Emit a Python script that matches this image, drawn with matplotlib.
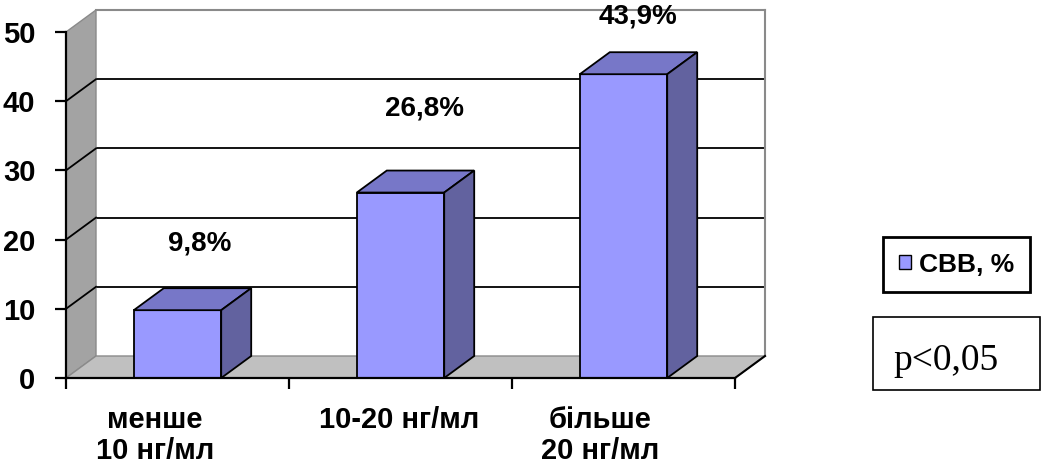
import matplotlib
matplotlib.use('Agg')
import matplotlib.pyplot as plt
from matplotlib.patches import Polygon, Patch, Rectangle

categories = ['менше\n10 нг/мл', '10-20 нг/мл', 'більше\n20 нг/мл']
values = [9.8, 26.8, 43.9]
value_labels = ['9,8%', '26,8%', '43,9%']
series_name = 'СВВ, %'
y_ticks = [0, 10, 20, 30, 40, 50]
p_text = 'p<0,05'

plt.rcParams['font.family'] = ['Liberation Sans', 'DejaVu Sans']
plt.rcParams['font.weight'] = 'bold'

W, H = 1042, 465
fig = plt.figure(figsize=(W / 100, H / 100), dpi=100)

# front plane of the 3-D box, in pixels
x0, x1, ytop, ybot = 66, 735, 32, 378
ax = fig.add_axes([x0 / W, 1 - ybot / H, (x1 - x0) / W, (ybot - ytop) / H])
ax.set_xlim(0, 3)
ax.set_ylim(0, 50)
ax.patch.set_visible(False)

px_x = 3 / (x1 - x0)
px_y = 50 / (ybot - ytop)
DX, DY = 30 * px_x, 22 * px_y  # depth of the box

front_c, top_c, side_c = '#9999ff', '#7777c8', '#62629f'
wall_edge = '#8a8a8a'

# back wall gridlines
for t in y_ticks[1:-1]:
    ax.plot([DX, 3 + DX], [t + DY, t + DY], color='black', lw=1.3, zorder=1, clip_on=False)
ax.plot([DX, 3 + DX], [50 + DY, 50 + DY], color=wall_edge, lw=1.5, zorder=1, clip_on=False)
ax.plot([3 + DX, 3 + DX], [DY, 50 + DY], color=wall_edge, lw=1.5, zorder=1, clip_on=False)

# left side wall
ax.add_patch(Polygon([(0, 0), (0, 50), (DX, 50 + DY), (DX, DY)], closed=True,
                     fc='#a3a3a3', ec=wall_edge, lw=1, zorder=2, clip_on=False))
for t in y_ticks[1:-1]:
    ax.plot([0, DX], [t, t + DY], color='black', lw=1.3, zorder=3, clip_on=False)

# floor
ax.add_patch(Polygon([(0, 0), (DX, DY), (3 + DX, DY), (3, 0)], closed=True,
                     fc='#c0c0c0', ec=wall_edge, lw=1, zorder=2, clip_on=False))
ax.plot([3, 3 + DX], [0, DY], color='black', lw=1.5, zorder=3, clip_on=False)

# columns
hw = 0.196
for i, v in enumerate(values):
    c = i + 0.5
    ax.add_patch(Rectangle((c - hw, 0), 2 * hw, v, fc=front_c, ec='black', lw=1.3, zorder=4))
    ax.add_patch(Polygon([(c - hw, v), (c - hw + DX, v + DY), (c + hw + DX, v + DY), (c + hw, v)],
                         closed=True, fc=top_c, ec='black', lw=1.3, zorder=4, clip_on=False))
    ax.add_patch(Polygon([(c + hw, 0), (c + hw + DX, DY), (c + hw + DX, v + DY), (c + hw, v)],
                         closed=True, fc=side_c, ec='black', lw=1.3, zorder=4, clip_on=False))

# value labels above the columns
label_dx = [0.03, 0.04, 0.0]
label_dy = [9.7, 12.1, 8.3]
for i, (v, s) in enumerate(zip(values, value_labels)):
    ax.text(i + 0.5 + DX / 2 + label_dx[i], v + label_dy[i], s, ha='center', va='center',
            fontsize=20, zorder=6, clip_on=False)

# axes
for side in ['top', 'right']:
    ax.spines[side].set_visible(False)
for side in ['left', 'bottom']:
    ax.spines[side].set_linewidth(1.6)
    ax.spines[side].set_zorder(5)
ax.set_yticks(y_ticks)
ax.set_yticklabels([str(t) for t in y_ticks])
ax.tick_params(axis='y', direction='out', length=8, width=1.6, pad=14, labelsize=21)
ax.set_xticks([0, 1, 2, 3])
ax.set_xticklabels([])
ax.tick_params(axis='x', direction='out', length=8, width=1.6)

# category labels
cat_dx = [-0.10, -0.005, -0.105]
for i, name in enumerate(categories):
    ax.text(i + 0.5 + cat_dx[i], -28 * px_y, name, ha='center', va='top',
            fontsize=21, linespacing=1.12, clip_on=False)

leg = ax.legend(handles=[Patch(fc=front_c, ec='black', lw=1)], labels=[series_name],
                loc='center', bbox_to_anchor=(956.5 / W, 1 - 264.5 / H),
                bbox_transform=fig.transFigure, frameon=True, fancybox=False,
                edgecolor='black', framealpha=1, handlelength=0.45, handleheight=0.45,
                handletextpad=0.3, borderpad=0.6, prop={'weight': 'bold', 'size': 19})
leg.get_frame().set_linewidth(2)

# significance box
fig.patches.append(Rectangle((873 / W, 1 - 390 / H), (1040 - 873) / W, (390 - 317) / H,
                             transform=fig.transFigure, fill=False, ec='black', lw=1.2))
fig.text(893 / W, 1 - 370 / H, p_text, family='Liberation Serif', weight='normal',
         fontsize=27, va='baseline')

fig.savefig('out.png', dpi=100)
